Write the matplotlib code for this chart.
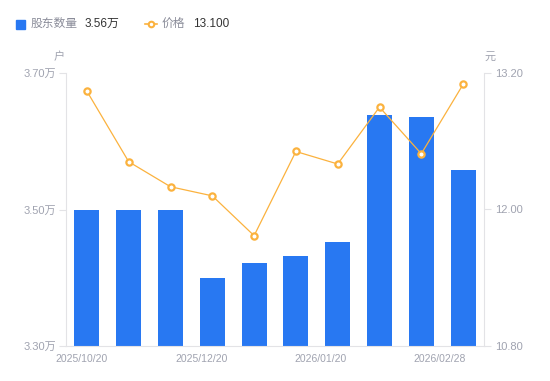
import matplotlib
matplotlib.use('Agg')
import matplotlib.pyplot as plt
from matplotlib.lines import Line2D
from matplotlib.patches import Rectangle

plt.rcParams['font.family'] = ['Liberation Sans', 'Noto Sans CJK SC', 'DejaVu Sans']

# 数据
holders = [3.50, 3.50, 3.50, 3.40, 3.421, 3.432, 3.452, 3.638, 3.635, 3.558]  # 万户
price = [13.04, 12.42, 12.20, 12.12, 11.77, 12.51, 12.40, 12.90, 12.49, 13.10]
shown_labels = ['2025/10/20', '2025/12/20', '2026/01/20', '2026/02/28']
left_ticks = [3.30, 3.50, 3.70]
right_ticks = [10.80, 12.00, 13.20]

bar_color = '#2878f2'
line_color = '#fbb23e'
grey = '#a0a3b0'
axis_grey = '#e3e3e6'

fig = plt.figure(figsize=(5.5, 3.81), dpi=100)
ax = fig.add_axes([66 / 550, 35 / 381, 418 / 550, 273 / 381])
ax2 = ax.twinx()

x = list(range(len(holders)))
ax.bar(x, holders, width=0.6, color=bar_color, zorder=2)
ax.set_xlim(-0.5, len(holders) - 0.5)
ax.set_ylim(left_ticks[0], left_ticks[-1])
ax.set_yticks(left_ticks)
ax.set_yticklabels([f'{v:.2f}万' for v in left_ticks])

ax2.plot(x, price, color=line_color, lw=0.9, marker='o', ms=4.5,
         mfc='white', mec=line_color, mew=1.6, zorder=3)
ax2.set_ylim(right_ticks[0], right_ticks[-1])
ax2.set_yticks(right_ticks)
ax2.set_yticklabels([f'{v:.2f}' for v in right_ticks])

# x 轴标签（均匀分布，首尾贴边）
n = len(shown_labels)
pos = [-0.12 + i * (8.45 + 0.12) / (n - 1) for i in range(n)]
ax.set_xticks(pos)
ax.set_xticklabels(shown_labels)
ax.tick_params(axis='x', length=0, pad=6, labelsize=7.5, labelcolor=grey)

for a in (ax, ax2):
    for s in a.spines.values():
        s.set_visible(False)
ax.spines['left'].set_visible(True)
ax.spines['left'].set_color(axis_grey)
ax.spines['bottom'].set_visible(True)
ax.spines['bottom'].set_color(axis_grey)
ax2.spines['right'].set_visible(True)
ax2.spines['right'].set_color(axis_grey)

ax.tick_params(axis='y', length=5, color=axis_grey, labelsize=8, labelcolor=grey, pad=2)
ax2.tick_params(axis='y', length=5, color=axis_grey, labelsize=8, labelcolor=grey, pad=3)

# 单位
fig.text(59 / 550, 1 - 57 / 381, '户', color=grey, fontsize=8, ha='center', va='center')
fig.text(490 / 550, 1 - 57 / 381, '元', color=grey, fontsize=8, ha='center', va='center')

# 图例
ly = 1 - 24 / 381
fig.patches.append(Rectangle((16 / 550, ly - 4.5 / 381), 9 / 550, 9 / 381,
                             transform=fig.transFigure, color=bar_color))
fig.text(31 / 550, ly, '股东数量', color='#8a8c99', fontsize=8.5, va='center')
fig.text(85 / 550, ly, f'{holders[-1]:.2f}万', color='#333333', fontsize=8.5, va='center')
fig.lines.append(Line2D([145 / 550, 157 / 550], [ly, ly], transform=fig.transFigure,
                        color=line_color, lw=1.2))
fig.lines.append(Line2D([151 / 550], [ly], transform=fig.transFigure, color=line_color,
                        marker='o', ms=4, mfc='white', mec=line_color, mew=1.5))
fig.text(162 / 550, ly, '价格', color='#8a8c99', fontsize=8.5, va='center')
fig.text(193 / 550, ly, f'{price[-1]:.3f}', color='#333333', fontsize=8.5, va='center')

fig.savefig('out.png', dpi=100)
